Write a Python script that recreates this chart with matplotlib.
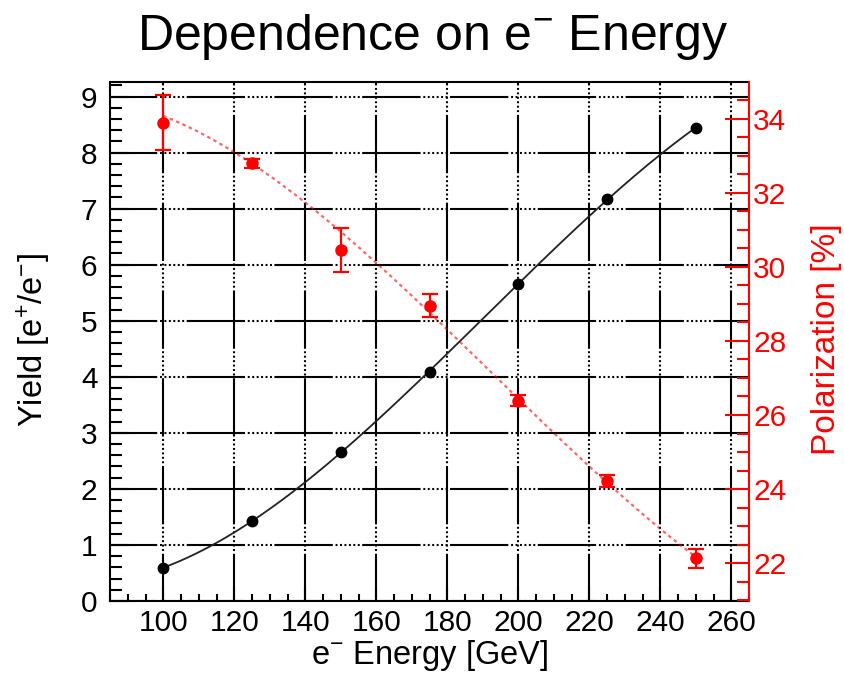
import matplotlib
matplotlib.use("Agg")
import matplotlib.pyplot as plt
import numpy as np
from matplotlib.ticker import MultipleLocator

plt.rcParams["font.family"] = ["Liberation Sans", "DejaVu Sans"]
plt.rcParams["mathtext.fontset"] = "custom"
plt.rcParams["mathtext.rm"] = "Liberation Sans"
plt.rcParams["mathtext.it"] = "Liberation Sans"
plt.rcParams["lines.scale_dashes"] = False

# data
energy = [100, 125, 150, 175, 200, 225, 250]
yield_vals = [0.59, 1.43, 2.66, 4.08, 5.66, 7.17, 8.44]
polarization = [33.89, 32.80, 30.45, 28.95, 26.38, 24.22, 22.13]
pol_err = [0.74, 0.12, 0.59, 0.31, 0.15, 0.15, 0.26]

x_ticks = [100, 120, 140, 160, 180, 200, 220, 240, 260]
red = "#ff0000"

fig = plt.figure(figsize=(8.45, 6.77), dpi=100)
ax = fig.add_axes([0.1302, 0.1123, 0.7562, 0.7666])
ax2 = ax.twinx()

ax.set_xlim(85, 265)
ax.set_ylim(0, 9.26)
ax2.set_ylim(20.98, 34.99)

# ROOT style grid: long dash followed by a run of dots
grid_ls = (8, (42, 2, 1.4, 1.8, 1.4, 1.8, 1.4, 1.8, 1.4, 1.8, 1.4, 1.8, 1.4, 1.8))
ax.set_xticks(x_ticks)
ax.xaxis.set_minor_locator(MultipleLocator(5))
ax.yaxis.set_major_locator(MultipleLocator(1))
ax.yaxis.set_minor_locator(MultipleLocator(0.2))
ax.grid(True, which="major", color="black", lw=1.5, linestyle=grid_ls)
ax.set_axisbelow(True)

ax.tick_params(axis="both", which="both", direction="in", colors="black",
               width=1.5, labelsize=21.5)
ax.tick_params(axis="y", which="major", length=14, pad=9, right=False)
ax.tick_params(axis="y", which="minor", length=8.5, right=False)
ax.tick_params(axis="x", which="major", length=10, pad=6, top=False)
ax.tick_params(axis="x", which="minor", length=5, top=False)

for s in ["left", "bottom", "top"]:
    ax.spines[s].set_linewidth(1.5)
    ax.spines[s].set_color("black")
ax.spines["right"].set_visible(False)

# black yield curve and points
fit_y = np.polyfit(energy, yield_vals, 3)
xs = np.linspace(energy[0], energy[-1], 200)
ax.plot(xs, np.polyval(fit_y, xs), color="#222222", lw=1.3, zorder=3)
ax.plot(energy, yield_vals, "o", color="black", ms=7.5, zorder=4)

# red polarization curve (error weighted fit) and points
fit_p = np.polyfit(energy, polarization, 3, w=1 / np.array(pol_err))
ax2.plot(xs, np.polyval(fit_p, xs), color=red, alpha=0.6, lw=1.6,
         linestyle=(0, (2.5, 2.5)), zorder=3)
ax2.errorbar(energy, polarization, yerr=pol_err, fmt="o", color=red,
             ms=8, elinewidth=1.6, capsize=6, capthick=1.6, zorder=4)

ax2.yaxis.set_major_locator(MultipleLocator(2))
ax2.yaxis.set_minor_locator(MultipleLocator(0.5))
ax2.tick_params(axis="y", which="both", direction="in", colors=red,
                width=1.5, labelsize=21.5, pad=3, left=False)
ax2.tick_params(axis="y", which="major", length=17)
ax2.tick_params(axis="y", which="minor", length=8.5)
for s in ["left", "bottom", "top"]:
    ax2.spines[s].set_visible(False)
ax2.spines["right"].set_color(red)
ax2.spines["right"].set_linewidth(1.5)

fig.text(0.512, 0.946, r"Dependence on e$^{-}$ Energy", fontsize=36,
         ha="center", va="center")
fig.text(0.508, 0.032, r"e$^{-}$ Energy [GeV]", fontsize=23.5,
         ha="center", va="center")
fig.text(0.040, 0.497, r"Yield [e$^{+}$/e$^{-}$]", fontsize=23.5,
         ha="center", va="center", rotation=90)
fig.text(0.978, 0.499, "Polarization [%]", fontsize=24, color=red,
         ha="center", va="center", rotation=90)

plt.savefig("out.png", dpi=100, facecolor="white")
plt.close(fig)
